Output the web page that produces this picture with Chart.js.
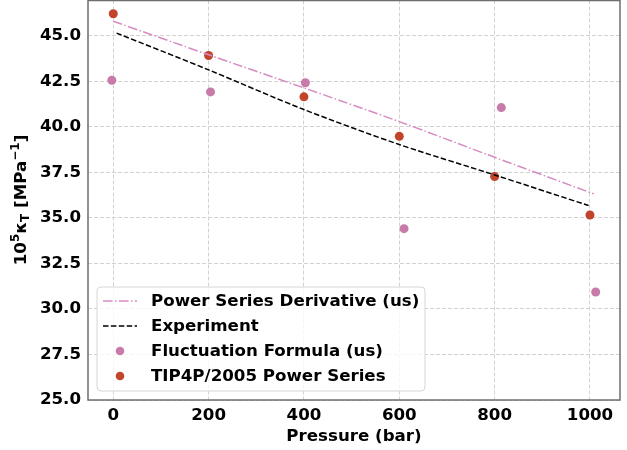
<!DOCTYPE html>
<html>
<head>
<meta charset="utf-8">
<script src="https://cdn.jsdelivr.net/npm/chart.js@4/dist/chart.umd.min.js"></script>
<style>
  html, body { margin: 0; padding: 0; background: #ffffff; }
  #outer { width: 627px; height: 450px; position: relative; overflow: hidden; }
  #wrap { width: 627px; height: 454px; position: absolute; left: 0; top: -4px; }
</style>
</head>
<body>
<div id="outer"><div id="wrap"><canvas id="c"></canvas></div></div>
<script>
// ---- Data ----
const derivPressure = [0, 200, 400, 600, 800, 1008];
const powerSeriesDerivative = [45.80, 43.96, 42.14, 40.29, 38.33, 36.32];

const expPressure = [7, 200, 400, 600, 800, 997];
const experiment = [45.15, 43.13, 40.95, 39.03, 37.36, 35.68];

const flucPressure = [-3, 204, 403, 610, 814, 1012];
const fluctuationFormula = [42.56, 41.92, 42.42, 34.41, 41.06, 30.93];

const simPressure = [0, 200, 400, 600, 800, 1000];
const tip4pPowerSeries = [46.21, 43.92, 41.65, 39.48, 37.27, 35.16];

const xTicks = [0, 200, 400, 600, 800, 1000];
const yTicks = [25.0, 27.5, 30.0, 32.5, 35.0, 37.5, 40.0, 42.5, 45.0];

const seriesLabels = [
  'Power Series Derivative (us)',
  'Experiment',
  'Fluctuation Formula (us)',
  'TIP4P/2005 Power Series'
];
const xTitle = 'Pressure (bar)';

// ---- Styles ----
const PINK_LINE = '#d68cc0';
const PINK_DOT = '#c87aa8';
const RED_DOT = '#c1452b';
const FONT = "'DejaVu Sans', sans-serif";
const FS = 16.67;
const DASH_DOT = [9.6, 2.4, 1.5, 2.4];
const DASHED = [5.5, 2.4];
const OFF = 4; // canvas is shifted up by this many px

function pts(xs, ys) { return xs.map((x, i) => ({ x: x, y: ys[i] })); }

const frameAndLabels = {
  id: 'frameAndLabels',
  afterDraw(chart) {
    const ctx = chart.ctx;
    const a = chart.chartArea;
    ctx.save();
    ctx.strokeStyle = '#6e6e6e';
    ctx.lineWidth = 1.5;
    ctx.setLineDash([]);
    ctx.strokeRect(a.left, a.top, a.right - a.left, a.bottom - a.top);

    ctx.fillStyle = '#000';
    ctx.font = 'bold ' + FS + 'px ' + FONT;
    ctx.textAlign = 'center';
    ctx.textBaseline = 'middle';
    ctx.fillText(xTitle, (a.left + a.right) / 2, 437 + OFF);

    const parts = [
      { t: '10', s: FS, dy: 0 },
      { t: '5', s: 12, dy: -6 },
      { t: 'κ', s: FS, dy: 0 },
      { t: 'T', s: 12, dy: 4 },
      { t: ' [MPa', s: FS, dy: 0 },
      { t: '−1', s: 12, dy: -6 },
      { t: ']', s: FS, dy: 0 }
    ];
    let total = 0;
    parts.forEach(p => { ctx.font = 'bold ' + p.s + 'px ' + FONT; p.w = ctx.measureText(p.t).width; total += p.w; });
    ctx.translate(22, 200 + OFF);
    ctx.rotate(-Math.PI / 2);
    ctx.textAlign = 'left';
    ctx.textBaseline = 'middle';
    let x = -total / 2;
    parts.forEach(p => {
      ctx.font = 'bold ' + p.s + 'px ' + FONT;
      ctx.fillText(p.t, x, p.dy);
      x += p.w;
    });
    ctx.restore();

    ctx.save();
    const bx = 97, by = 287 + OFF, bw = 328, bh = 104, r = 4;
    ctx.beginPath();
    ctx.moveTo(bx + r, by);
    ctx.arcTo(bx + bw, by, bx + bw, by + bh, r);
    ctx.arcTo(bx + bw, by + bh, bx, by + bh, r);
    ctx.arcTo(bx, by + bh, bx, by, r);
    ctx.arcTo(bx, by, bx + bw, by, r);
    ctx.closePath();
    ctx.fillStyle = 'rgba(255,255,255,0.8)';
    ctx.fill();
    ctx.strokeStyle = '#d6d6d6';
    ctx.lineWidth = 1;
    ctx.stroke();

    const rows = [301, 326, 351, 376].map(v => v + OFF);
    const ds = chart.data.datasets;
    ctx.font = 'bold ' + FS + 'px ' + FONT;
    ctx.textAlign = 'left';
    ctx.textBaseline = 'middle';
    rows.forEach((ry, i) => {
      const d = ds[i];
      if (d.showLine) {
        ctx.beginPath();
        ctx.setLineDash(d.borderDash);
        ctx.strokeStyle = d.borderColor;
        ctx.lineWidth = 1.5;
        ctx.moveTo(103, ry);
        ctx.lineTo(137, ry);
        ctx.stroke();
        ctx.setLineDash([]);
      } else {
        ctx.beginPath();
        ctx.fillStyle = d.backgroundColor;
        ctx.arc(120, ry, 4.3, 0, Math.PI * 2);
        ctx.fill();
      }
      ctx.fillStyle = '#000';
      ctx.fillText(d.label, 151, ry + 1);
    });
    ctx.restore();
  }
};

new Chart(document.getElementById('c'), {
  type: 'scatter',
  data: {
    datasets: [
      {
        label: seriesLabels[0],
        data: pts(derivPressure, powerSeriesDerivative),
        showLine: true, borderColor: PINK_LINE, borderWidth: 1.5,
        borderDash: DASH_DOT, pointRadius: 0, fill: false, tension: 0.3
      },
      {
        label: seriesLabels[1],
        data: pts(expPressure, experiment),
        showLine: true, borderColor: '#000000', borderWidth: 1.5,
        borderDash: DASHED, pointRadius: 0, fill: false, tension: 0.3
      },
      {
        label: seriesLabels[2],
        data: pts(flucPressure, fluctuationFormula),
        showLine: false, backgroundColor: PINK_DOT, borderColor: PINK_DOT,
        pointRadius: 4.5, pointBorderWidth: 0
      },
      {
        label: seriesLabels[3],
        data: pts(simPressure, tip4pPowerSeries),
        showLine: false, backgroundColor: RED_DOT, borderColor: RED_DOT,
        pointRadius: 4.5, pointBorderWidth: 0
      }
    ]
  },
  options: {
    responsive: true,
    maintainAspectRatio: false,
    animation: false,
    devicePixelRatio: 1,
    layout: { padding: { top: 1, right: 7, left: 0, bottom: 0 } },
    plugins: { legend: { display: false }, tooltip: { enabled: false }, title: { display: false } },
    scales: {
      x: {
        type: 'linear', min: -53, max: 1063,
        afterFit(s) { s.height = 50; s.paddingLeft = 0; s.paddingRight = 0; s.paddingTop = 0; s.paddingBottom = 0; },
        afterBuildTicks(s) { s.ticks = xTicks.map(v => ({ value: v })); },
        grid: { color: '#d2d2d2', lineWidth: 1, drawTicks: false },
        border: { display: false, dash: [4, 2] },
        ticks: {
          color: '#000', padding: 6, maxRotation: 0,
          font: { family: FONT, size: FS, weight: 'bold' },
          callback: v => String(v)
        }
      },
      y: {
        type: 'linear', min: 25, max: 46.94,
        afterFit(s) { s.width = 88; s.paddingTop = 0; s.paddingBottom = 0; s.paddingLeft = 0; s.paddingRight = 0; },
        afterBuildTicks(s) { s.ticks = yTicks.map(v => ({ value: v })); },
        grid: { color: '#d2d2d2', lineWidth: 1, drawTicks: false },
        border: { display: false, dash: [4, 2] },
        ticks: {
          color: '#000', padding: 7,
          font: { family: FONT, size: FS, weight: 'bold' },
          callback: v => Number(v).toFixed(1)
        }
      }
    }
  },
  plugins: [frameAndLabels]
});
</script>
</body>
</html>
